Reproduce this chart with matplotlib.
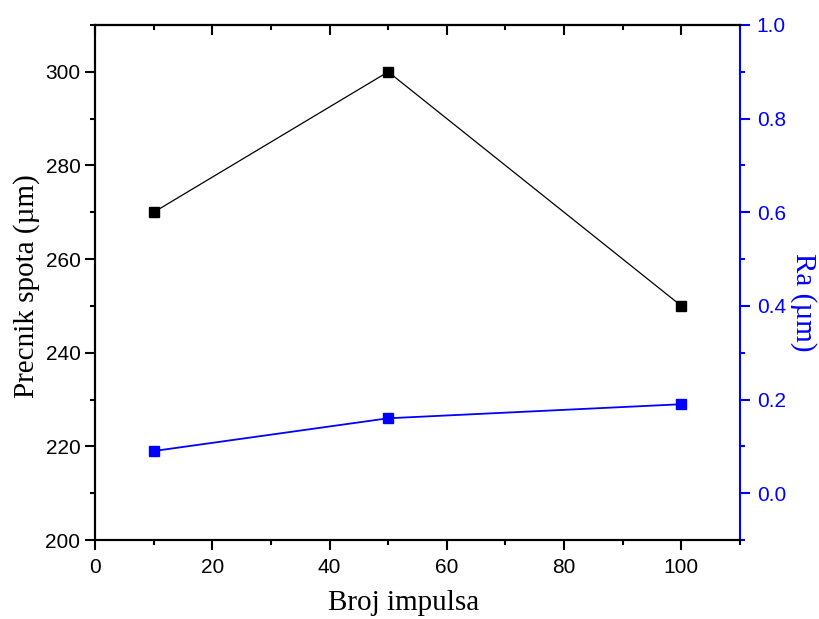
import matplotlib
matplotlib.use("Agg")
import matplotlib.pyplot as plt
from matplotlib.ticker import MultipleLocator, FormatStrFormatter

x = [10, 50, 100]
spot = [270, 300, 250]
ra = [0.09, 0.16, 0.19]

xlabel = "Broj impulsa"
ylabel_left = "Precnik spota (\u00b5m)"
ylabel_right = "Ra (\u00b5m)"

blue = "#0000FF"
sans = ["Liberation Sans", "DejaVu Sans"]
serif = ["Liberation Serif", "DejaVu Serif"]

W, H = 819, 619
fig = plt.figure(figsize=(W / 100, H / 100), dpi=100)
ax = fig.add_axes([95 / W, 1 - 540 / H, (740 - 95) / W, (540 - 25) / H])
ax2 = ax.twinx()

ax.plot(x, spot, color="black", lw=0.9, marker="s", ms=7, mfc="black", mec="black", zorder=3)
ax2.plot(x, ra, color=blue, lw=1.3, marker="s", ms=7, mfc=blue, mec=blue, zorder=3)

ax.set_xlim(0, 110)
ax.set_ylim(200, 310)
ax2.set_ylim(-0.1, 1.0)

ax.xaxis.set_major_locator(MultipleLocator(20))
ax.xaxis.set_minor_locator(MultipleLocator(10))
ax.yaxis.set_major_locator(MultipleLocator(20))
ax.yaxis.set_minor_locator(MultipleLocator(10))
ax2.yaxis.set_major_locator(MultipleLocator(0.2))
ax2.yaxis.set_minor_locator(MultipleLocator(0.1))
ax2.yaxis.set_major_formatter(FormatStrFormatter("%.1f"))

for s in ["left", "bottom", "top"]:
    ax.spines[s].set_linewidth(1.5)
    ax2.spines[s].set_linewidth(1.5)
ax.spines["right"].set_visible(False)
ax2.spines["right"].set_linewidth(1.5)
ax2.spines["right"].set_color(blue)

ax.tick_params(axis="x", which="both", direction="out", top=False, width=1.5, pad=6)
ax.tick_params(axis="x", which="major", length=7)
ax.tick_params(axis="x", which="minor", length=3.6)
ax.tick_params(axis="y", which="both", direction="out", width=1.5, right=False, pad=3.5)
ax.tick_params(axis="y", which="major", length=7)
ax.tick_params(axis="y", which="minor", length=3.6)
ax2.tick_params(axis="y", which="both", direction="out", width=1.5, colors=blue, pad=5)
ax2.tick_params(axis="y", which="major", length=7)
ax2.tick_params(axis="y", which="minor", length=3.6)

secx = ax.secondary_xaxis("top")
secx.xaxis.set_major_locator(MultipleLocator(20))
secx.xaxis.set_minor_locator(MultipleLocator(10))
secx.tick_params(axis="x", which="both", direction="in", labeltop=False, width=1.5)
secx.tick_params(axis="x", which="major", length=7)
secx.tick_params(axis="x", which="minor", length=3.6)
secx.spines["top"].set_linewidth(1.5)

for lab in ax.get_xticklabels() + ax.get_yticklabels():
    lab.set_fontfamily(sans)
    lab.set_fontsize(15)
for lab in ax2.get_yticklabels():
    lab.set_fontfamily(sans)
    lab.set_fontsize(15)
    lab.set_color(blue)

fig.text(404 / W, 1 - 609.5 / H, xlabel, family=serif, fontsize=21,
         ha="center", va="baseline")
fig.text(27 / W, 1 - 286 / H, ylabel_left, family=serif, fontsize=21,
         ha="center", va="center", rotation=90)
fig.text(803 / W, 1 - 302 / H, ylabel_right, family=serif, fontsize=21,
         ha="center", va="center", rotation=270, color=blue)

fig.savefig("out.png", dpi=100)
